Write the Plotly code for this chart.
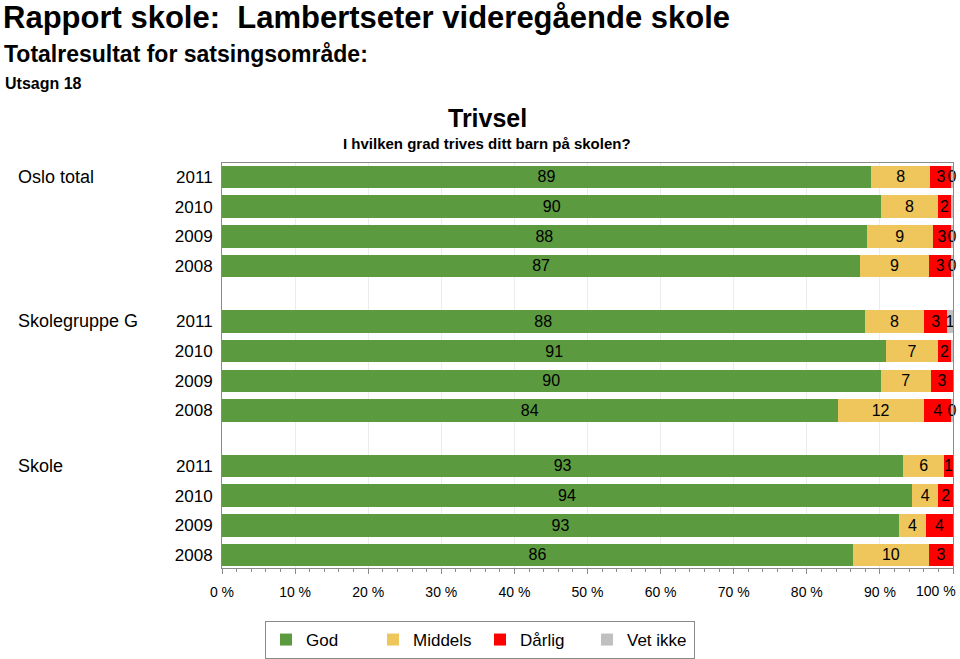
import plotly.graph_objects as go

# ---------------- data ----------------
groups = ["Oslo total", "Skolegruppe G", "Skole"]
years = ["2011", "2010", "2009", "2008"]
series_names = ["God", "Middels", "Dårlig", "Vet ikke"]
series_colors = ["#5B9A3E", "#EEC65C", "#FF0000", "#C0C0C0"]

god = [88.8, 90.2, 88.2, 87.3,
       87.9, 90.9, 90.1, 84.2,
       93.2, 94.4, 92.6, 86.3]
middels = [8.1, 7.7, 9.0, 9.4,
           8.2, 7.0, 6.9, 11.8,
           5.6, 3.6, 3.7, 10.4]
darlig = [2.9, 1.9, 2.6, 3.1,
          3.1, 1.9, 3.0, 3.8,
          1.2, 2.0, 3.7, 3.3]
vet_ikke = [0.2, 0.2, 0.2, 0.2,
            0.8, 0.2, None, 0.2,
            None, None, None, None]

x_ticks = [0, 10, 20, 30, 40, 50, 60, 70, 80, 90, 100]

# ---------------- layout helpers ----------------
W, H = 960, 659
X0, X1, Y0, Y1 = 222, 953, 163, 568          # plot area in pixels
ML, MR, MT, MB = X0, W - X1, Y0, H - Y1
PW, PH = X1 - X0, Y1 - Y0
GROUP_STEP = 4.87


def px(xp):
    return (xp - X0) / PW


def py(yp):
    return (Y1 - yp) / PH


ypos = [g * GROUP_STEP + i for g in range(len(groups)) for i in range(len(years))]
ytext = [y for _ in groups for y in years]

FONT = "Liberation Sans, Arial, sans-serif"

fig = go.Figure()
for name, vals, col in zip(series_names, [god, middels, darlig, vet_ikke], series_colors):
    fig.add_trace(go.Bar(
        name=name, orientation="h", x=vals, y=ypos,
        marker=dict(color=col, line=dict(width=0)),
        width=0.76,
        texttemplate="%{x:.0f}",
        textposition="inside",
        insidetextanchor="middle",
        constraintext="none",
        textangle=0,
        textfont=dict(color="black", size=16, family=FONT),
        cliponaxis=False,
        hoverinfo="skip",
    ))

# last tick label would run past the page edge: drawn as an annotation instead
ticktext = [f"{t} %" for t in x_ticks]
last_label = ticktext[-1]
ticktext[-1] = ""

fig.update_layout(
    width=W, height=H,
    margin=dict(l=ML, r=MR, t=MT, b=MB, autoexpand=False),
    barmode="stack",
    plot_bgcolor="white", paper_bgcolor="white",
    font=dict(family=FONT, color="black"),
    showlegend=True,
    legend=dict(
        orientation="h", x=px(480), xanchor="center", y=py(621), yanchor="top",
        bordercolor="#8a8a8a", borderwidth=1, bgcolor="white",
        font=dict(size=17, family=FONT),
        entrywidth=62, entrywidthmode="pixels",
        traceorder="normal",
    ),
    xaxis=dict(
        range=[0, 100], tickvals=x_ticks, ticktext=ticktext,
        ticks="outside", ticklen=5, tickcolor="#8a8a8a",
        minor=dict(dtick=2, ticks="outside", ticklen=3, tickcolor="#8a8a8a", showgrid=False),
        showgrid=True, gridcolor="#ececec", gridwidth=1,
        showline=True, linecolor="#8a8a8a", linewidth=1, mirror=True,
        tickfont=dict(size=14, family=FONT),
        ticklabelstandoff=6,
        zeroline=False, fixedrange=True, automargin=False,
    ),
    yaxis=dict(
        range=[ypos[-1] + 0.44, -0.47],
        tickvals=ypos, ticktext=ytext,
        ticks="", showgrid=False, zeroline=False,
        showline=True, linecolor="#8a8a8a", linewidth=1, mirror=True,
        tickfont=dict(size=17, family=FONT),
        ticklabelstandoff=5, automargin=False, fixedrange=True,
    ),
)

fig.add_annotation(text=last_label, x=x_ticks[-1], xref="x", y=py(591), yref="paper",
                   xanchor="right", xshift=5, yanchor="middle", showarrow=False,
                   font=dict(size=14, family=FONT))

annotations = [
    dict(text="<b>Rapport skole:  Lambertseter videregående skole</b>", x=px(1), y=py(17),
         font=dict(size=31, family=FONT)),
    dict(text="<b>Totalresultat for satsingsområde:</b>", x=px(2), y=py(54),
         font=dict(size=23, family=FONT)),
    dict(text="<b>Utsagn 18</b>", x=px(3), y=py(83),
         font=dict(size=16, family=FONT)),
]
for a in annotations:
    a.update(xref="paper", yref="paper", xanchor="left", yanchor="middle", showarrow=False)
    fig.add_annotation(**a)

fig.add_annotation(text="<b>Trivsel</b>", x=px(487), y=py(118), xref="paper", yref="paper",
                   xanchor="center", yanchor="middle", showarrow=False,
                   font=dict(size=25, family=FONT))
fig.add_annotation(text="<b>I hvilken grad trives ditt barn på skolen?</b>", x=px(487), y=py(143),
                   xref="paper", yref="paper", xanchor="center", yanchor="middle", showarrow=False,
                   font=dict(size=15, family=FONT))

for g, name in enumerate(groups):
    fig.add_annotation(text=name, x=px(16), y=ypos[g * len(years)], xref="paper", yref="y",
                       xanchor="left", yanchor="middle", showarrow=False,
                       font=dict(size=18, family=FONT))

fig.write_html("out.html",
               config={"displayModeBar": False},
               post_script="document.body.style.margin='0';document.body.style.overflow='hidden';")
